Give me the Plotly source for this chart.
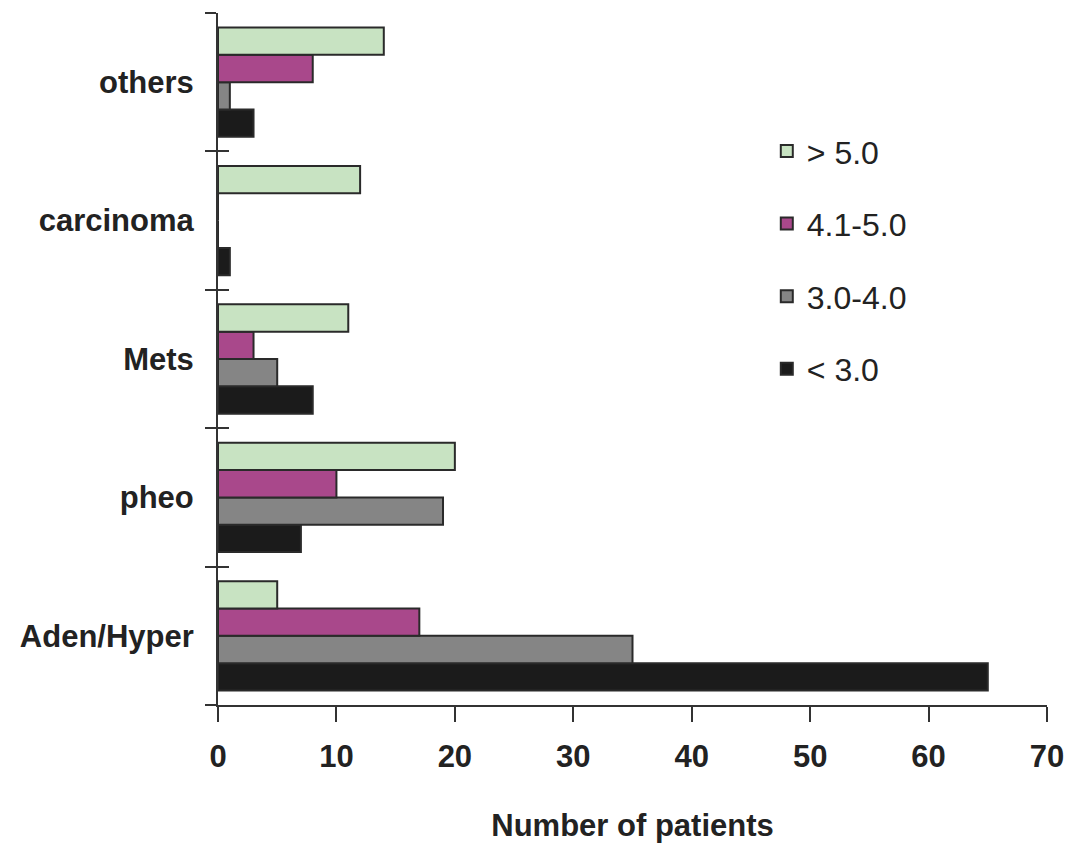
import plotly.graph_objects as go

categories = ["Aden/Hyper", "pheo", "Mets", "carcinoma", "others"]
series_names = ["< 3.0", "3.0-4.0", "4.1-5.0", "> 5.0"]
vals_lt3 = [65, 7, 8, 1, 3]
vals_3_4 = [35, 19, 5, 0, 1]
vals_41_5 = [17, 10, 3, 0, 8]
vals_gt5 = [5, 20, 11, 12, 14]
colors = ["#1b1b1b", "#858585", "#a9488b", "#c8e3c2"]
legend_ranks = [4, 3, 2, 1]
x_ticks = [0, 10, 20, 30, 40, 50, 60, 70]
boundaries = [-0.5, 0.5, 1.5, 2.5, 3.5, 4.5]

FONT = "Liberation Sans Narrow, Arial Narrow, Liberation Sans, Arial"
TXT = "#222222"

fig = go.Figure()
for name, vals, col, rk in zip(series_names, [vals_lt3, vals_3_4, vals_41_5, vals_gt5], colors, legend_ranks):
    fig.add_trace(go.Bar(
        y=categories, x=vals, name=name, orientation="h",
        marker=dict(color=col, line=dict(color="#2a2a2a", width=2)),
        legendgroup=name, legendrank=rk,
    ))

# invisible helper so the overlay axis (inside ticks at category boundaries) is drawn
fig.add_trace(go.Scatter(x=[0, 0], y=[boundaries[0], boundaries[-1]], yaxis="y2",
                         mode="lines", line=dict(width=0), opacity=0,
                         showlegend=False, hoverinfo="skip"))

fig.update_layout(
    width=1076, height=848,
    paper_bgcolor="white", plot_bgcolor="white",
    margin=dict(l=218, r=29, t=13, b=143),
    barmode="group", bargap=0.21, bargroupgap=0,
    font=dict(family=FONT, color=TXT),
    showlegend=True,
    legend=dict(
        x=0.662, y=0.84, xanchor="left", yanchor="top",
        traceorder="grouped", tracegroupgap=28,
        font=dict(family=FONT, size=32, color=TXT),
        bgcolor="rgba(0,0,0,0)",
    ),
    xaxis=dict(
        range=[0, 70], tickvals=x_ticks, showgrid=False, zeroline=False,
        showline=True, linecolor="#333", linewidth=2, automargin=False,
        ticks="outside", ticklen=15, tickwidth=2, tickcolor="#333",
        ticklabelstandoff=8,
        tickfont=dict(family=FONT, size=31, color=TXT, weight="bold"),
        title=dict(text="Number of patients", standoff=41,
                   font=dict(family=FONT, size=31, color=TXT, weight="bold")),
    ),
    yaxis=dict(
        categoryorder="array", categoryarray=categories,
        range=[-0.5, 4.5], showgrid=False, zeroline=False,
        showline=True, linecolor="#333", linewidth=2, automargin=False,
        ticks="outside", tickson="boundaries", ticklen=11, tickwidth=2, tickcolor="#333",
        ticklabelstandoff=16,
        tickfont=dict(family=FONT, size=31, color=TXT, weight="bold"),
    ),
    yaxis2=dict(
        overlaying="y", side="left", range=[-0.5, 4.5], anchor="x",
        tickvals=boundaries, showticklabels=False, automargin=False,
        ticks="inside", ticklen=11, tickwidth=2, tickcolor="#333",
        showgrid=False, zeroline=False, showline=False,
    ),
)

fig.write_html("out.html",
               config={"displayModeBar": False},
               post_script="document.body.style.margin='0px';document.body.style.padding='0px';")
